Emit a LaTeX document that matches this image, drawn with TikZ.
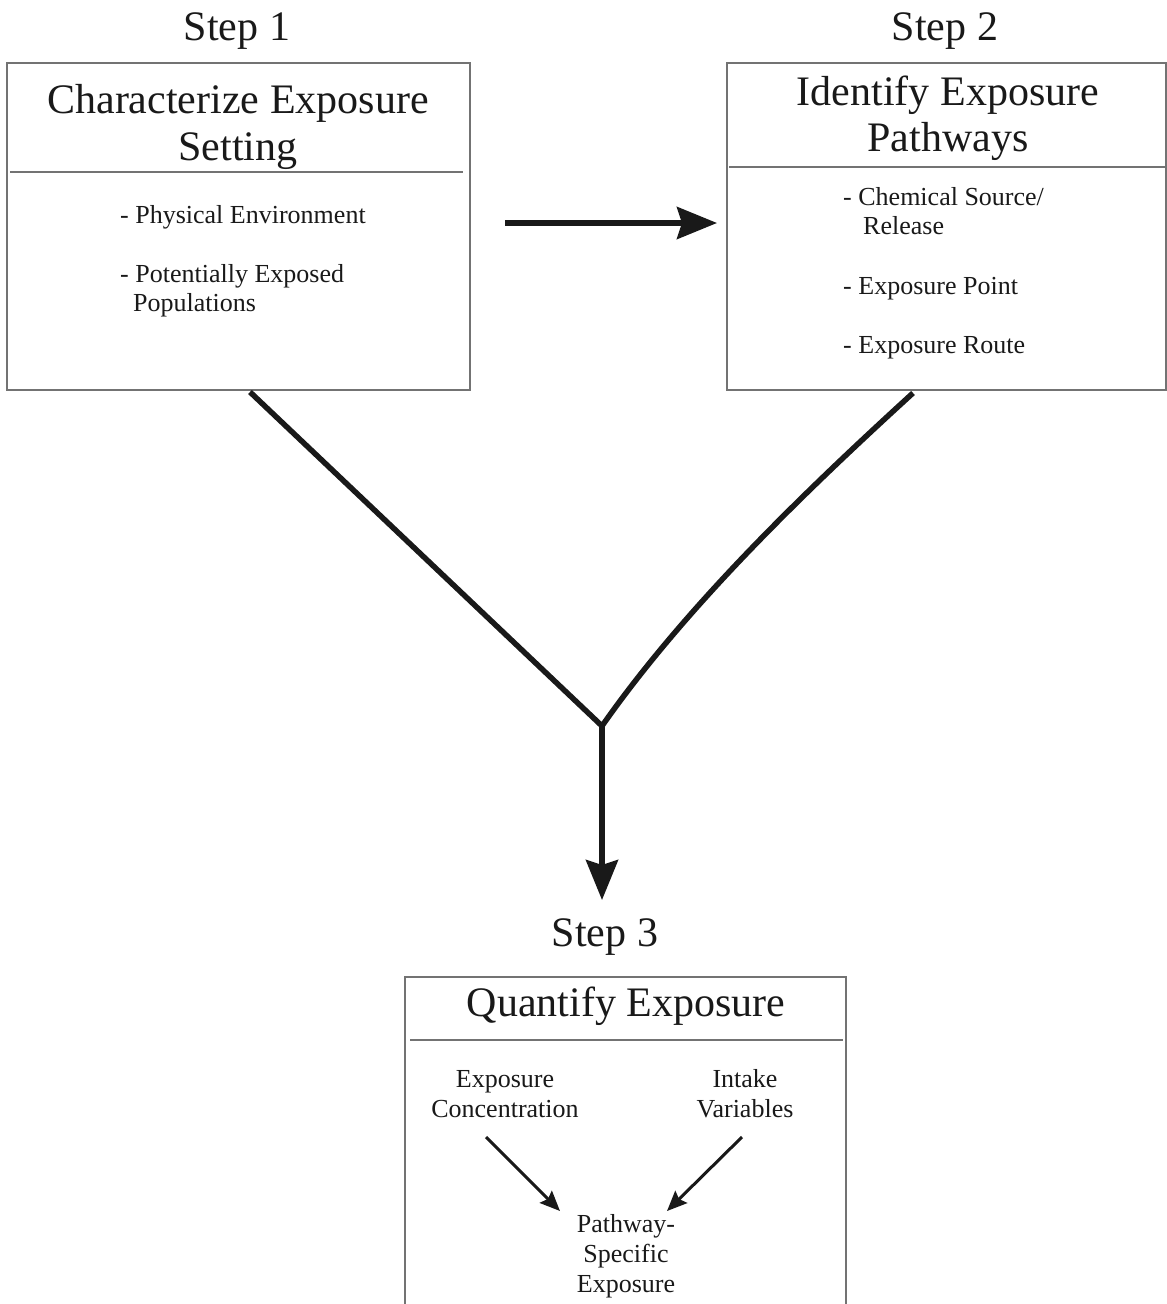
\documentclass[tikz,border=0pt]{standalone}
\usepackage{fontspec}
\setmainfont{Liberation Serif}
\usetikzlibrary{arrows.meta,positioning}

\tikzset{
  stepbox/.style={draw=black!55, line width=1.3pt, inner sep=0pt},
  divider/.style={draw=black!55, line width=1.1pt},
  steplabel/.style={font=\fontsize{42}{47}\selectfont, text=black!90, anchor=base, inner sep=0pt},
  boxtitle/.style={font=\fontsize{42}{47}\selectfont, text=black!90, anchor=base, inner sep=0pt},
  item/.style={font=\fontsize{26}{29}\selectfont, text=black!90, anchor=base west, inner sep=0pt},
  term/.style={font=\fontsize{26}{30}\selectfont, text=black!90, anchor=base, inner sep=0pt},
  flow/.style={draw=black!90, line width=5.5pt},
  bigarrow/.style={flow, -{Stealth[length=40pt,width=32pt,inset=5pt]}},
  smallarrow/.style={draw=black!90, line width=3pt, -{Stealth[length=20pt,width=17pt,inset=3pt]}}
}

\begin{document}
\begin{tikzpicture}[x=1pt,y=-1pt]
\useasboundingbox (0,0) rectangle (1167,1304);

% the three boxes
\node[stepbox, minimum width=463pt, minimum height=327pt] (setting) at (238.5,226.5) {};
\node[stepbox, minimum width=439pt, minimum height=327pt] (pathways) at (946.5,226.5) {};
\node[stepbox, minimum width=441pt, minimum height=343pt] (quantify) at (625.5,1148.5) {};
\draw[divider] (10,172) -- (463,172);
\draw[divider] (729,167) -- (1165,167);
\draw[divider] (410,1040) -- (843,1040);

% step labels
\node[steplabel] (step1) at (237,40) {Step 1};
\node[steplabel] (step2) at (945,40) {Step 2};
\node[steplabel] (step3) at (605,946) {Step 3};

% step 1
\node[boxtitle] (settingtitle) at (238,113) {Characterize Exposure};
\node[boxtitle] (settingtitleb) at (238,160) {Setting};
\node[item] (physical) at (120,223) {- Physical Environment};
\node[item] (exposed) at (120,282) {- Potentially Exposed};
\node[item] (populations) at (133,311) {Populations};

% step 2
\node[boxtitle] (pathwaystitle) at (948,105) {Identify Exposure};
\node[boxtitle] (pathwaystitleb) at (948,151) {Pathways};
\node[item] (source) at (843,205) {- Chemical Source/};
\node[item] (release) at (863,234) {Release};
\node[item] (point) at (843,294) {- Exposure Point};
\node[item] (route) at (843,353) {- Exposure Route};

% step 3
\node[boxtitle] (quantifytitle) at (626,1016) {Quantify Exposure};
\node[term] (conc) at (505,1087) {Exposure};
\node[term] (concb) at (505,1117) {Concentration};
\node[term] (intake) at (745,1087) {Intake};
\node[term] (intakeb) at (745,1117) {Variables};
\node[term] (specific) at (626,1232) {Pathway-};
\node[term] (specificb) at (626,1262) {Specific};
\node[term] (specificc) at (626,1292) {Exposure};

% connector ends
\coordinate (settingout) at (505,223);
\coordinate (pathwaysin) at (717,223);
\coordinate (settingfoot) at (250,392);
\coordinate (pathwaysfoot) at (913,393);
\coordinate (junction) at (602,726);
\coordinate (quantifyin) at (602,900);
\coordinate (concout) at (486,1137);
\coordinate (intakeout) at (742,1137);
\coordinate (specificin) at (560,1211);
\coordinate (specificinb) at (667,1211);

\draw[bigarrow] (settingout) -- (pathwaysin);
\draw[flow, line join=miter] (settingfoot) -- (junction) .. controls (690,600) and (820,478) .. (pathwaysfoot);
\draw[bigarrow] (junction) -- (quantifyin);
\draw[smallarrow] (concout) -- (specificin);
\draw[smallarrow] (intakeout) -- (specificinb);
\end{tikzpicture}
\end{document}
